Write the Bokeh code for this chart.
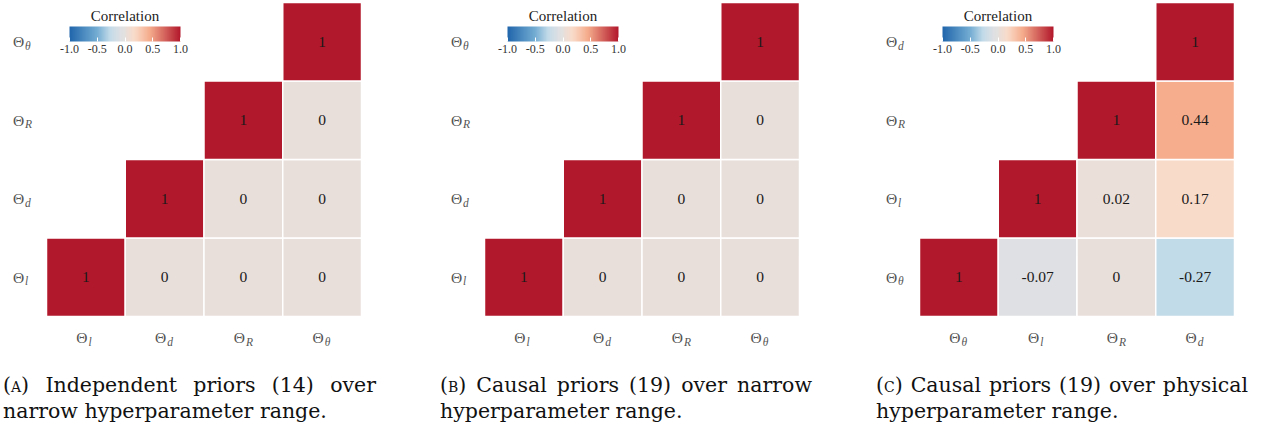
from bokeh.plotting import figure
from bokeh.models import (ColumnDataSource, LinearColorMapper, ColorBar, FixedTicker,
                          PrintfTickFormatter, Range1d, Div, Label)
from bokeh.layouts import row, column
from bokeh.core.properties import value
from bokeh.embed import file_html
from bokeh.resources import INLINE

# ---------------- data ----------------
# subscripts of the Θ labels, in axis order (x left->right, y bottom->top)
labels_a = ["l", "d", "R", "θ"]
labels_b = ["l", "d", "R", "θ"]
labels_c = ["θ", "l", "R", "d"]

# correlation matrices: row j = y position (bottom -> top), column i = x position; None = hidden
corr_a = [[1, 0, 0, 0],
          [None, 1, 0, 0],
          [None, None, 1, 0],
          [None, None, None, 1]]
corr_b = [[1, 0, 0, 0],
          [None, 1, 0, 0],
          [None, None, 1, 0],
          [None, None, None, 1]]
corr_c = [[1, -0.07, 0, -0.27],
          [None, 1, 0.02, 0.17],
          [None, None, 1, 0.44],
          [None, None, None, 1]]

cb_ticks = [-1.0, -0.5, 0.0, 0.5, 1.0]
cb_title = "Correlation"

caption_tags = ["(a)", "(b)", "(c)"]
caption_line1 = ["Independent priors (14) over",
                 "Causal priors (19) over narrow",
                 "Causal priors (19) over physical"]
caption_line2 = ["narrow hyperparameter range.",
                 "hyperparameter range.",
                 "hyperparameter range."]

# ---------------- palette ----------------
def _rgb(h):
    return tuple(int(h[i:i + 2], 16) for i in (1, 3, 5))

def ramp(stops, n):
    out = []
    for k in range(n):
        t = k / (n - 1)
        for (p0, c0), (p1, c1) in zip(stops, stops[1:]):
            if p0 <= t <= p1:
                break
        f = (t - p0) / (p1 - p0) if p1 > p0 else 0
        a, b = _rgb(c0), _rgb(c1)
        out.append("#%02x%02x%02x" % tuple(round(a[i] + (b[i] - a[i]) * f) for i in range(3)))
    return out

palette = ramp([(0, "#2166ac"), (0.5, "#74add3"), (0.73, "#c2dbe9"), (0.93, "#dfe0e3"), (1, "#e3e1e0")], 128) + \
          ramp([(0, "#e8dfdb"), (0.17, "#f9dbc9"), (0.44, "#f5ad8d"), (1, "#b2182b")], 128)

# ---------------- layout params ----------------
FIG_H = 372
GRID_TOP = 2
CELL_W = 78.75
CELL_H = 78.5
panel_widths = [440, 436, 395]
grid_lefts = [46, 44, 43]
div_widths = [373, 372, 372]
div_lefts = [3, 0, 0]

SERIF = "Liberation Serif"


def make_panel(corr, subs, W, gl):
    xs, ys, vals, txt = [], [], [], []
    for j, rowv in enumerate(corr):
        for i, v in enumerate(rowv):
            if v is None:
                continue
            xs.append(i)
            ys.append(j)
            vals.append(v)
            txt.append(f"{v:g}")
    src = ColumnDataSource(dict(x=xs, y=ys, v=vals, t=txt))

    x0 = -0.5 - gl / CELL_W
    y1 = len(corr) - 0.5 + GRID_TOP / CELL_H
    p = figure(width=W, height=FIG_H, output_backend="svg", toolbar_location=None,
               x_range=Range1d(x0, x0 + W / CELL_W), y_range=Range1d(y1 - FIG_H / CELL_H, y1),
               min_border=0, x_axis_location=None, y_axis_location=None)
    p.outline_line_color = None
    p.grid.visible = False

    mapper = LinearColorMapper(palette=palette, low=-1, high=1)
    p.rect(x="x", y="y", width=1, height=1, source=src,
           fill_color={"field": "v", "transform": mapper}, line_color="white", line_width=1.5)
    p.text(x="x", y="y", text="t", source=src, text_font=value(SERIF), text_font_size="15.5px",
           text_align="center", text_baseline="middle", text_color="#1a1a1a")

    n = len(subs)
    idx = list(range(n))
    # x-axis labels
    xl = ColumnDataSource(dict(x=idx, y=[-0.5] * n, th=["Θ"] * n, s=subs))
    p.text(x="x", y="y", text="th", source=xl, x_offset=-4, y_offset=21,
           text_font=value(SERIF), text_font_size="15.5px", text_align="center",
           text_baseline="middle", text_color="#555555")
    p.text(x="x", y="y", text="s", source=xl, x_offset=2.5, y_offset=25,
           text_font=value(SERIF), text_font_size="11.5px", text_font_style="italic",
           text_align="left", text_baseline="middle", text_color="#555555")
    # y-axis labels
    yl = ColumnDataSource(dict(x=[-0.5] * n, y=idx, th=["Θ"] * n, s=subs))
    p.text(x="x", y="y", text="th", source=yl, x_offset=-28,
           text_font=value(SERIF), text_font_size="15.5px", text_align="center",
           text_baseline="middle", text_color="#555555")
    p.text(x="x", y="y", text="s", source=yl, x_offset=-21.5, y_offset=4,
           text_font=value(SERIF), text_font_size="11.5px", text_font_style="italic",
           text_align="left", text_baseline="middle", text_color="#555555")

    bar_left = gl + 23
    cb = ColorBar(color_mapper=mapper, orientation="horizontal", width=111, height=15,
                  location=(bar_left, FIG_H - 23 - 32), padding=0, margin=0,
                  ticker=FixedTicker(ticks=cb_ticks), formatter=PrintfTickFormatter(format="%.1f"),
                  major_label_text_font=SERIF, major_label_text_font_size="12px",
                  major_label_text_color="#333333", label_standoff=3,
                  background_fill_alpha=0, border_line_color=None, bar_line_color=None,
                  major_tick_line_color="white", major_tick_in=4, major_tick_out=0,
                  minor_tick_line_color=None)
    p.add_layout(cb, "center")
    p.add_layout(Label(x=bar_left + 55.5, y=FIG_H - 15, x_units="screen", y_units="screen",
                       text=cb_title, text_font=SERIF, text_font_size="15px",
                       text_align="center", text_baseline="middle", text_color="#222222"))
    return p


corrs = [corr_a, corr_b, corr_c]
subs_all = [labels_a, labels_b, labels_c]
cols = []
for k in range(3):
    p = make_panel(corrs[k], subs_all[k], panel_widths[k], grid_lefts[k])
    w = div_widths[k]
    html = (f'<div style="display:block;width:{w}px;text-align:justify;text-align-last:justify;">'
            f'<span style="font-variant:small-caps">{caption_tags[k]}</span> {caption_line1[k]}</div>'
            f'<div style="display:block;width:{w}px;text-align:left;">{caption_line2[k]}</div>')
    d = Div(text=html, width=w, height=52, margin=(0, 0, 0, div_lefts[k]),
            styles={"font-family": "DejaVu Serif", "font-size": "20.5px", "line-height": "26px",
                    "color": "#111111", "white-space": "normal"})
    cols.append(column(p, d, spacing=0))

layout = row(*cols, spacing=0)
open("out.html", "w").write(file_html(layout, INLINE))
